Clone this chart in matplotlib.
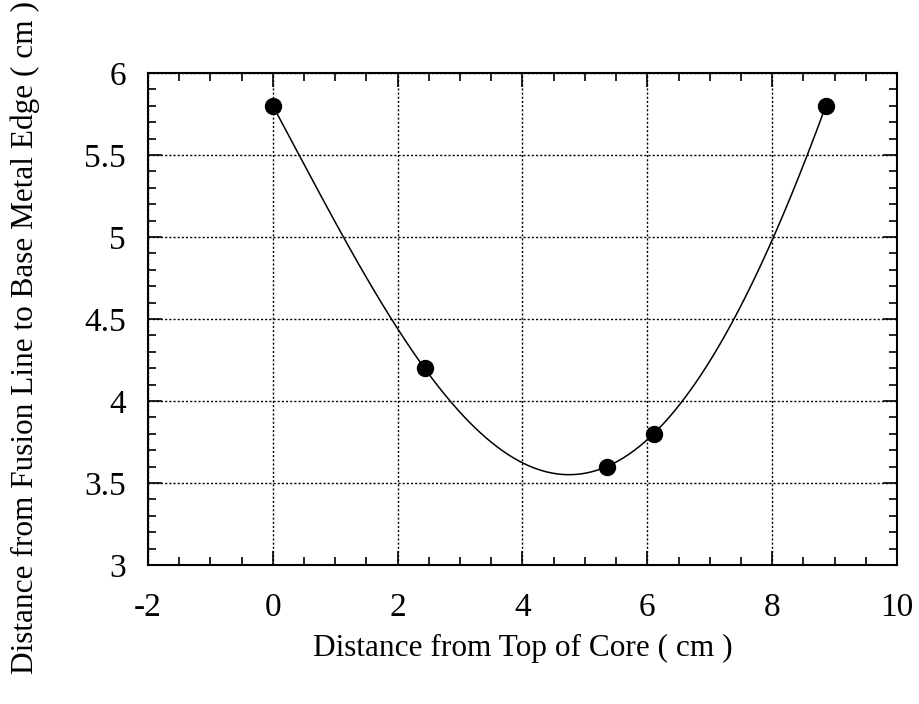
import matplotlib
matplotlib.use('Agg')
import matplotlib.pyplot as plt
from matplotlib.ticker import MultipleLocator
import numpy as np

# measured points
dist_top = [0.0, 2.43, 5.35, 6.1, 8.86]
dist_edge = [5.8, 4.2, 3.6, 3.8, 5.8]

plt.rcParams['font.family'] = ['Liberation Serif', 'DejaVu Serif']
plt.rcParams['axes.unicode_minus'] = False

fig = plt.figure(figsize=(9.2, 7.04), dpi=100)
ax = fig.add_axes([148/920, 1 - 565/704, (897-148)/920, (565-73)/704])

# smooth curve through the points
coef = np.polyfit(dist_top, dist_edge, 4)
xs = np.linspace(dist_top[0], dist_top[-1], 300)
ax.plot(xs, np.polyval(coef, xs), color='black', lw=1.1, zorder=3)
ax.plot(dist_top, dist_edge, 'o', color='black', ms=11.5, zorder=4)

ax.set_xlim(-2, 10)
ax.set_ylim(3, 6)
ax.xaxis.set_major_locator(MultipleLocator(2))
ax.xaxis.set_minor_locator(MultipleLocator(0.5))
ax.yaxis.set_minor_locator(MultipleLocator(0.1))
ax.set_yticks([3, 3.5, 4, 4.5, 5, 5.5, 6])
ax.set_yticklabels(['3', '3.5', '4', '4.5', '5', '5.5', '6'])

ax.tick_params(which='both', direction='in', top=True, right=True, colors='black',
               labelsize=24, width=1.2)
ax.tick_params(which='major', length=10)
ax.tick_params(axis='x', which='major', pad=20)
ax.tick_params(axis='y', which='major', pad=16)
ax.tick_params(which='minor', length=6)
ax.grid(True, which='major', linestyle=(0, (1.5, 1.5)), color='black', lw=1.0)
for s in ax.spines.values():
    s.set_linewidth(1.5)

ax.set_xlabel('Distance from Top of Core ( cm )', fontsize=22.5, labelpad=8)
fig.text(25/920, 1 - 338/704, 'Distance from Fusion Line to Base Metal Edge ( cm )',
         rotation=90, ha='center', va='center', fontsize=22.5)

fig.savefig('out.png', dpi=100)
